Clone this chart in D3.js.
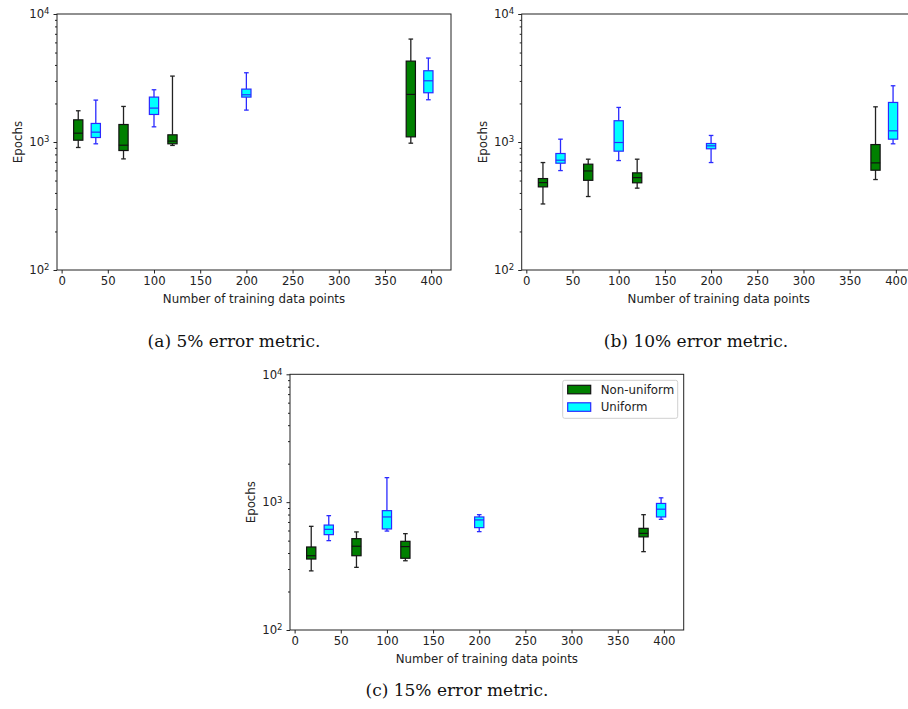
<!DOCTYPE html>
<html>
<head>
<meta charset="utf-8">
<script src="https://cdn.jsdelivr.net/npm/d3@7"></script>
<style>
  body { margin: 0; background: #fff; }
  svg { display: block; }
  .tick text { font-family: "DejaVu Sans", sans-serif; font-size: 11.7px; fill: #222; }
  .axis-label { font-family: "DejaVu Sans", sans-serif; font-size: 11.8px; fill: #222; }
  .caption { font-family: "DejaVu Serif", serif; font-size: 17px; fill: #111; }
</style>
</head>
<body>
<svg id="chart" width="908" height="709"></svg>
<script>
// box positions on the x axis
const NONUNIFORM_POS = [18, 67, 120, 378];
const UNIFORM_POS = [37, 100, 200, 397];
const X_TICKS = [0, 50, 100, 150, 200, 250, 300, 350, 400];
const Y_TICKS = [100, 1000, 10000];
const SERIES_NAMES = ["Non-uniform", "Uniform"];

// each entry: [lower whisker, q1, median, q3, upper whisker]
const A_NONUNIFORM = [[906, 1033, 1172, 1490, 1754], [738, 858, 944, 1370, 1896], [940, 968, 1016, 1138, 3273], [979, 1097, 2354, 4285, 6370]];
const A_UNIFORM = [[968, 1084, 1194, 1396, 2125], [1314, 1641, 1840, 2243, 2559], [1775, 2243, 2338, 2590, 3475], [2138, 2425, 3008, 3603, 4527]];

const B_NONUNIFORM = [[328, 446, 482, 518, 691], [375, 502, 594, 671, 734], [436, 480, 527, 574, 734], [509, 602, 687, 955, 1883]];
const B_UNIFORM = [[598, 683, 721, 813, 1052], [716, 848, 991, 1466, 1862], [691, 885, 933, 973, 1125], [968, 1052, 1223, 2037, 2750]];

const C_NONUNIFORM = [[290, 359, 381, 446, 647], [309, 381, 452, 518, 585], [348, 364, 449, 494, 567], [410, 535, 570, 624, 798]];
const C_UNIFORM = [[500, 557, 613, 662, 784], [594, 617, 766, 858, 1555], [588, 632, 726, 766, 798], [734, 766, 881, 977, 1081]];

const CAPTIONS = ["(a) 5% error metric.", "(b) 10% error metric.", "(c) 15% error metric."];

const STYLE = {
  nonuniform: { fill: "#008000", stroke: "#111", whisker: "#222" },
  uniform: { fill: "#00ffff", stroke: "#2a2aff", whisker: "#2a2aff" },
};
const BOX_WIDTH = 10;

const svg = d3.select("#chart");

function drawBoxes(g, x, y, positions, stats, style) {
  const grp = g.append("g");
  stats.forEach((s, i) => {
    const cx = x(positions[i]);
    const half = (x(positions[i] + BOX_WIDTH / 2) - x(positions[i] - BOX_WIDTH / 2)) / 2;
    const cap = half / 2;
    const [lo, q1, med, q3, hi] = s;
    grp.append("line")
      .attr("x1", cx).attr("x2", cx)
      .attr("y1", y(lo)).attr("y2", y(q1))
      .attr("stroke", style.whisker).attr("stroke-width", 1.3);
    grp.append("line")
      .attr("x1", cx).attr("x2", cx)
      .attr("y1", y(q3)).attr("y2", y(hi))
      .attr("stroke", style.whisker).attr("stroke-width", 1.3);
    [lo, hi].forEach((v) => {
      grp.append("line")
        .attr("x1", cx - cap).attr("x2", cx + cap)
        .attr("y1", y(v)).attr("y2", y(v))
        .attr("stroke", style.whisker).attr("stroke-width", 1.3);
    });
    grp.append("rect")
      .attr("x", cx - half).attr("width", half * 2)
      .attr("y", y(q3)).attr("height", y(q1) - y(q3))
      .attr("fill", style.fill)
      .attr("stroke", style.stroke).attr("stroke-width", 1.2);
    grp.append("line")
      .attr("x1", cx - half).attr("x2", cx + half)
      .attr("y1", y(med)).attr("y2", y(med))
      .attr("stroke", style.stroke).attr("stroke-width", 1.2);
  });
}

function drawPanel(box, nonuniform, uniform, caption, legend) {
  const { left, top, width, height } = box;
  const x = d3.scaleLinear().domain([-5, 421.5]).range([left, left + width]);
  const y = d3.scaleLog().domain([100, 10000]).range([top + height, top]);
  const g = svg.append("g");

  // x axis
  const xAxis = g.append("g")
    .attr("transform", `translate(0,${top + height})`)
    .call(d3.axisBottom(x).tickValues(X_TICKS).tickSize(3.5).tickPadding(3));
  xAxis.select(".domain").remove();
  xAxis.selectAll(".tick line").attr("stroke", "#222");

  // y minor ticks
  const minor = [];
  [100, 1000].forEach((d) => { for (let k = 2; k < 10; k++) minor.push(d * k); });
  const yMinor = g.append("g")
    .attr("transform", `translate(${left},0)`)
    .call(d3.axisLeft(y).tickValues(minor).tickSize(2).tickFormat(""));
  yMinor.select(".domain").remove();
  yMinor.selectAll(".tick line").attr("stroke", "#222");

  // y major ticks with superscript labels
  const yAxis = g.append("g")
    .attr("transform", `translate(${left},0)`)
    .call(d3.axisLeft(y).tickValues(Y_TICKS).tickSize(3.5).tickPadding(4).tickFormat(""));
  yAxis.select(".domain").remove();
  yAxis.selectAll(".tick line").attr("stroke", "#222");
  yAxis.selectAll(".tick text").each(function (d) {
    const t = d3.select(this);
    t.text("10");
    t.append("tspan")
      .attr("dy", "-0.45em")
      .attr("font-size", "8.5px")
      .text(Math.round(Math.log10(d)));
  });

  drawBoxes(g, x, y, NONUNIFORM_POS, nonuniform, STYLE.nonuniform);
  drawBoxes(g, x, y, UNIFORM_POS, uniform, STYLE.uniform);

  // spines
  g.append("rect")
    .attr("x", left).attr("y", top)
    .attr("width", width).attr("height", height)
    .attr("fill", "none").attr("stroke", "#222").attr("stroke-width", 1);

  g.append("text")
    .attr("class", "axis-label")
    .attr("x", left + width / 2).attr("y", top + height + 33)
    .attr("text-anchor", "middle")
    .text("Number of training data points");

  g.append("text")
    .attr("class", "axis-label")
    .attr("transform", `translate(${left - 35},${top + height / 2}) rotate(-90)`)
    .attr("text-anchor", "middle")
    .text("Epochs");

  g.append("text")
    .attr("class", "caption")
    .attr("x", box.capX).attr("y", box.capY)
    .attr("text-anchor", "middle")
    .text(caption);

  if (legend) {
    const lx = left + width - 121, ly = top + 6;
    const lg = g.append("g");
    lg.append("rect")
      .attr("x", lx).attr("y", ly).attr("width", 115).attr("height", 38)
      .attr("rx", 2)
      .attr("fill", "#fff").attr("stroke", "#d0d0d0");
    [STYLE.nonuniform, STYLE.uniform].forEach((s, i) => {
      lg.append("rect")
        .attr("x", lx + 5).attr("y", ly + 5 + i * 17.5)
        .attr("width", 23).attr("height", 8.5)
        .attr("fill", s.fill).attr("stroke", s.stroke).attr("stroke-width", 1.2);
      lg.append("text")
        .attr("class", "axis-label")
        .attr("x", lx + 38).attr("y", ly + 9.5 + i * 17.5)
        .attr("dy", "0.35em")
        .text(SERIES_NAMES[i]);
    });
  }
}

drawPanel({ left: 57, top: 14, width: 394, height: 256, capX: 234, capY: 347 }, A_NONUNIFORM, A_UNIFORM, CAPTIONS[0], false);
drawPanel({ left: 521.7, top: 14, width: 394, height: 256, capX: 696, capY: 347 }, B_NONUNIFORM, B_UNIFORM, CAPTIONS[1], false);
drawPanel({ left: 290, top: 374.3, width: 393.7, height: 255.7, capX: 457, capY: 696 }, C_NONUNIFORM, C_UNIFORM, CAPTIONS[2], true);
</script>
</body>
</html>
